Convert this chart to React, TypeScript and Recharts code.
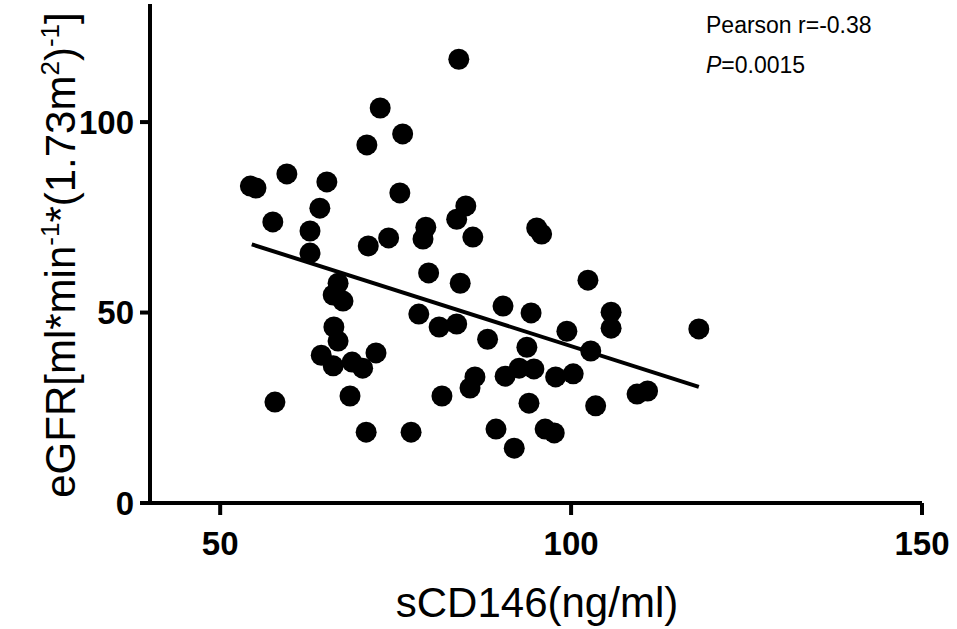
import { ScatterChart, Scatter, XAxis, YAxis, ReferenceLine } from 'recharts';

// sCD146 (ng/ml) per patient
const sCD146 = [
  54.3, 55.1, 59.5, 57.5, 65.2, 64.2, 62.8, 62.8, 72.8, 76.0,
  70.9, 75.6, 71.1, 74.0, 79.3, 78.9, 84.0, 85.0, 83.7, 86.0,
  95.1, 95.8, 79.7, 84.2, 102.4, 66.8, 66.1, 67.5, 66.2, 66.8,
  64.4, 66.1, 68.8, 70.3, 72.2, 78.3, 81.2, 83.7, 90.3, 94.3,
  99.4, 105.7, 105.7, 118.2, 88.1, 93.7, 102.8, 86.3, 85.6, 90.6,
  92.6, 94.7, 97.8, 100.3, 57.8, 68.5, 81.6, 94.0, 103.5, 109.4,
  110.9, 70.8, 77.2, 89.3, 91.9, 96.3, 97.6,
];

// eGFR [ml*min-1*(1.73m2)-1], same order as sCD146
const eGFR = [
  83.2, 82.7, 86.4, 73.8, 84.3, 77.4, 71.4, 65.6, 103.7, 96.9,
  94.0, 81.4, 67.5, 69.6, 72.4, 69.3, 116.5, 78.0, 74.5, 69.8,
  72.2, 70.6, 60.4, 57.7, 58.5, 57.7, 54.6, 53.0, 46.2, 42.5,
  38.8, 36.0, 37.0, 35.4, 39.4, 49.6, 46.2, 47.0, 51.7, 49.9,
  45.1, 50.1, 45.9, 45.7, 43.0, 40.9, 39.9, 33.1, 30.2, 33.3,
  35.4, 35.2, 33.1, 33.9, 26.5, 28.1, 28.1, 26.2, 25.5, 28.6,
  29.4, 18.6, 18.6, 19.4, 14.4, 19.4, 18.4,
];

// fitted regression line ends
const fitX = [54.5, 118.2];
const fitY = [67.9, 30.5];

const xTicks = [50, 100, 150];
const yTicks = [0, 50, 100];

const points = sCD146.map((x, i) => ({ x, y: eGFR[i] }));
const fitSegment = fitX.map((x, i) => ({ x, y: fitY[i] }));

const FONT = '"Liberation Sans", Arial, Helvetica, sans-serif';

const tickStyle = { fill: '#000', fontSize: 33, fontWeight: 'bold', fontFamily: FONT };

const Dot = (props: any) => <circle cx={props.cx} cy={props.cy} r={10.5} fill="#000" />;

const YLabel = () => {
  const x = 75;
  const y = 255;
  return (
    <text
      x={x}
      y={y}
      transform={`rotate(-90, ${x}, ${y})`}
      textAnchor="middle"
      fontFamily={FONT}
      fontSize={42}
      fill="#000"
    >
      eGFR[ml*min
      <tspan dy={-16} fontSize={26}>-1</tspan>
      <tspan dy={16}>*(1.73m</tspan>
      <tspan dy={-16} fontSize={26}>2</tspan>
      <tspan dy={16}>)</tspan>
      <tspan dy={-16} fontSize={26}>-1</tspan>
      <tspan dy={16}>]</tspan>
    </text>
  );
};

const XLabel = () => (
  <text x={537} y={617} textAnchor="middle" fontFamily={FONT} fontSize={42} fill="#000">
    sCD146(ng/ml)
  </text>
);

export default function App() {
  return (
    <div style={{ position: 'absolute', left: 0, top: 0, width: 957, height: 629, background: '#fff' }}>
      <ScatterChart width={957} height={629} margin={{ top: 4, right: 35, bottom: 66, left: 10 }}>
        <XAxis
          type="number"
          dataKey="x"
          domain={[40, 150]}
          ticks={xTicks}
          height={60}
          tick={tickStyle}
          tickSize={12}
          tickMargin={17}
          axisLine={{ stroke: '#000', strokeWidth: 4 }}
          tickLine={{ stroke: '#000', strokeWidth: 4 }}
          label={<XLabel />}
        />
        <YAxis
          type="number"
          dataKey="y"
          domain={[0, 131]}
          ticks={yTicks}
          width={140}
          tick={tickStyle}
          tickSize={10}
          tickMargin={6}
          axisLine={{ stroke: '#000', strokeWidth: 4 }}
          tickLine={{ stroke: '#000', strokeWidth: 4 }}
          label={<YLabel />}
        />
        <ReferenceLine
          segment={fitSegment}
          stroke="#000"
          strokeWidth={4}
          ifOverflow="visible"
        />
        <Scatter data={points} fill="#000" shape={Dot} isAnimationActive={false} />
      </ScatterChart>
      <svg
        width={260}
        height={90}
        style={{ position: 'absolute', left: 697, top: 0 }}
        fontFamily={FONT}
        fontSize={23}
        fill="#000"
      >
        <text x={9} y={33}>Pearson r=-0.38</text>
        <text x={9} y={73}>
          <tspan fontStyle="italic">P</tspan>=0.0015
        </text>
      </svg>
    </div>
  );
}
